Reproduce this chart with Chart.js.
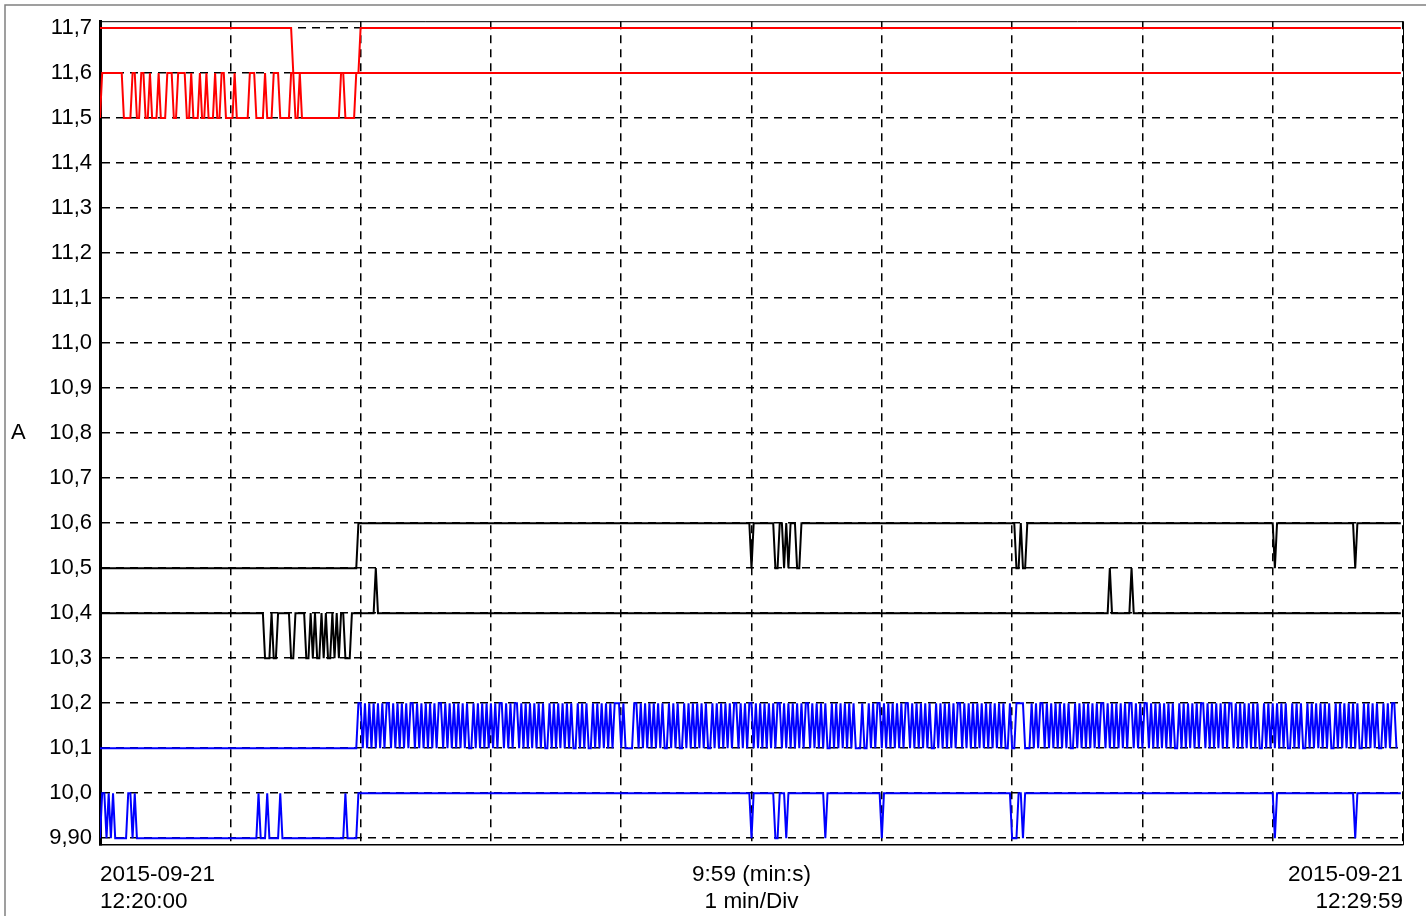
<!DOCTYPE html>
<html>
<head>
<meta charset="utf-8">
<title>A</title>
<script src="https://cdn.jsdelivr.net/npm/chart.js@4.4.1/dist/chart.umd.min.js"></script>
<style>
  html, body { margin: 0; padding: 0; background: #fff; }
  canvas { display: block; }
</style>
</head>
<body>
<canvas id="trend" width="1426" height="916"></canvas>
<script>
// 采样 1 s，共 600 点 (12:20:00 - 12:29:59)
const LAST_SEC = 599;

// 纵轴刻度
const yTicks = [9.9, 10.0, 10.1, 10.2, 10.3, 10.4, 10.5, 10.6, 10.7, 10.8, 10.9, 11.0, 11.1, 11.2, 11.3, 11.4, 11.5, 11.6, 11.7];
const yTickLabels = ['9,90', '10,0', '10,1', '10,2', '10,3', '10,4', '10,5', '10,6', '10,7', '10,8', '10,9', '11,0', '11,1', '11,2', '11,3', '11,4', '11,5', '11,6', '11,7'];

// 横轴标签 (秒 -> 文本)
const xLabelSecs = [0, 300, 600];
const xLabels = [
    ['2015-09-21', '12:20:00'],
    ['9:59 (min:s)', '1 min/Div'],
    ['2015-09-21', '12:29:59']
];

// 各曲线: 两个电平交替, runs 为每段持续秒数 (从 levels[0] 开始)
const redHiLevels = [11.7, 11.6];
const redHiRuns = [89, 31, 480];

const redLoLevels = [11.5, 11.6];
const redLoRuns = [1, 10, 4, 2, 2, 2, 2, 1, 3, 1, 3, 3, 2, 4, 2, 1, 3, 1, 2, 1,
    3, 1, 2, 2, 4, 1, 6, 3, 4, 1, 3, 3, 5, 2, 2, 1, 18, 2, 5, 482];

const blackHiLevels = [10.5, 10.6];
const blackHiRuns = [119, 181, 1, 10, 2, 2, 1, 1, 1, 3, 2, 99, 2, 1, 2, 114, 1, 36, 1, 21];

// 黑色下曲线有三个电平: [值, 秒]
const blackLoSteps = [
    [10.4, 76], [10.3, 3], [10.4, 1], [10.3, 2], [10.4, 6], [10.3, 2], [10.4, 5],
    [10.3, 2], [10.4, 1], [10.3, 1], [10.4, 1], [10.3, 2], [10.4, 1], [10.3, 1],
    [10.4, 1], [10.3, 2], [10.4, 1], [10.3, 1], [10.4, 1], [10.3, 1], [10.4, 2],
    [10.3, 3], [10.4, 11], [10.5, 1], [10.4, 337], [10.5, 1], [10.4, 9], [10.5, 1],
    [10.4, 124]
];

const blueHiLevels = [10.1, 10.2];
const blueHiRuns = [119,
    2, 1, 1, 1, 1, 1, 1, 1, 1, 1, 1, 1, 2, 1, 1, 1, 1, 1, 1, 1, 1, 1, 2, 1, 1, 1, 1, 1, 1, 1, 1, 1,
    1, 1, 2, 1, 1, 1, 1, 1, 1, 1, 1, 1, 1, 1, 1, 2, 1, 1, 1, 1, 1, 1, 1, 1, 1, 1, 1, 1, 2, 1, 1,
    1, 1, 1, 2, 1, 1, 1, 1, 1, 1, 1, 1, 1, 1, 1, 1, 2, 1, 1, 1, 1, 1, 1, 1, 1, 1, 1, 1, 2, 1, 1, 1,
    1, 1, 2, 1, 1, 1, 1, 1, 1, 1, 1, 1, 1, 3, 1, 1, 4, 2, 1, 1, 1, 1, 1, 1, 1, 1, 1, 1, 1, 1, 2, 1,
    1, 1, 1, 1, 2, 1, 1, 1, 1, 1, 1, 1, 1, 1, 1, 1, 2, 1, 1, 1, 1, 1, 1, 1, 1, 1, 1, 2, 1, 1, 1, 1,
    1, 2, 1, 1, 1, 1, 1, 1, 1, 1, 1, 1, 1, 2, 1, 1, 1, 1, 1, 1, 1, 1, 1, 1, 1, 2, 1, 1, 1, 1, 1, 1,
    1, 1, 2, 1, 1, 1, 1, 1, 1, 1, 1, 1, 1, 1, 3, 1, 2, 1, 1, 1, 1, 2, 1, 1, 1, 1, 1, 1, 1, 1, 1, 1,
    1, 2, 1, 1, 1, 1, 1, 1, 1, 1, 1, 1, 2, 1, 1, 1, 1, 1, 1, 1, 1, 1, 1, 2, 1, 1, 1, 1, 1, 1, 1, 1, 1,
    1, 1, 1, 1, 1, 1, 1, 1, 1, 1, 1, 2, 1, 2, 4, 3, 1, 1, 1, 1, 2, 1, 1, 1, 1, 1, 1, 1, 1, 1, 1, 1,
    1, 2, 1, 1, 1, 1, 1, 1, 1, 1, 1, 1, 1, 1, 2, 1, 1, 1, 1, 1, 1, 1, 1, 1, 1, 1, 2, 1, 1, 1, 1, 1,
    2, 1, 1, 1, 1, 1, 1, 1, 1, 1, 1, 1, 1, 2, 1, 1, 1, 1, 1, 1, 1, 1, 1, 1, 2, 1, 1, 1, 1, 1, 1, 1, 1,
    1, 1, 1, 2, 1, 1, 1, 1, 1, 1, 1, 1, 1, 1, 1, 1, 2, 1, 1, 1, 1, 1, 1, 1, 1, 1, 1, 1, 2, 1, 1, 1,
    1, 1, 2, 1, 1, 1, 1, 1, 1, 1, 1, 1, 1, 1, 2, 1, 1, 1, 1, 1, 1, 1, 1, 1, 1, 1, 2, 1, 1, 1, 1, 1,
    1, 1, 2, 1, 1, 1, 1, 2, 1
];

const blueLoLevels = [9.9, 10.0];
const blueLoRuns = [1, 2, 1, 1, 1, 1, 6, 2, 1, 1, 56, 1, 3, 1, 5, 1, 29, 1, 5, 181,
    1, 10, 2, 3, 1, 17, 1, 25, 1, 59, 3, 2, 1, 115, 1, 36, 1, 21];

// 交替电平 -> [值, 秒]
function alternate(levels, runs) {
    return runs.map((n, i) => [levels[i % 2], n]);
}

// [值, 秒] -> 折线点，每段首尾各一个点
function toPoints(steps) {
    const pts = [];
    let t = 0;
    steps.forEach(([v, n]) => {
        if (t > LAST_SEC) return;
        pts.push({ x: t, y: v });
        const end = Math.min(t + n - 1, LAST_SEC);
        if (end > t) pts.push({ x: end, y: v });
        t += n;
    });
    return pts;
}

const series = [
    { color: '#ff0000', steps: alternate(redHiLevels, redHiRuns) },
    { color: '#ff0000', steps: alternate(redLoLevels, redLoRuns) },
    { color: '#000000', steps: alternate(blackHiLevels, blackHiRuns) },
    { color: '#000000', steps: blackLoSteps },
    { color: '#0000ff', steps: alternate(blueHiLevels, blueHiRuns) },
    { color: '#0000ff', steps: alternate(blueLoLevels, blueLoRuns) }
];

const FONT = '"Liberation Sans", Arial, sans-serif';
Chart.defaults.font.family = FONT;
Chart.defaults.color = '#000';

// 背景、外框、绘图区边框、纵轴单位
const framePlugin = {
    id: 'frame',
    beforeDraw(chart) {
        const ctx = chart.ctx;
        ctx.save();
        ctx.fillStyle = '#fff';
        ctx.fillRect(0, 0, chart.width, chart.height);
        ctx.strokeStyle = '#808080';
        ctx.lineWidth = 1.5;
        ctx.beginPath();
        ctx.moveTo(chart.width, 5);
        ctx.lineTo(5, 5);
        ctx.lineTo(5, chart.height);
        ctx.stroke();
        ctx.restore();
    },
    afterDraw(chart) {
        const { ctx, chartArea: a } = chart;
        ctx.save();
        ctx.strokeStyle = '#000';
        ctx.lineWidth = 1;
        ctx.beginPath();
        ctx.moveTo(a.left, a.top + 0.5);
        ctx.lineTo(a.right + 0.5, a.top + 0.5);
        ctx.lineTo(a.right + 0.5, a.bottom);
        ctx.stroke();
        ctx.font = '22px ' + FONT;
        ctx.fillStyle = '#000';
        ctx.textBaseline = 'middle';
        ctx.textAlign = 'left';
        ctx.fillText('A', 11, (a.top + a.bottom) / 2);
        ctx.restore();
    }
};

new Chart(document.getElementById('trend'), {
    type: 'line',
    data: {
        datasets: series.map(s => ({
            data: toPoints(s.steps),
            borderColor: s.color,
            borderWidth: 2,
            pointRadius: 0,
            tension: 0,
            fill: false
        }))
    },
    options: {
        responsive: false,
        animation: false,
        events: [],
        layout: { padding: { top: 18, right: 23, left: 0, bottom: 0 } },
        plugins: {
            legend: { display: false },
            tooltip: { enabled: false }
        },
        scales: {
            x: {
                type: 'linear',
                min: 0,
                max: 600,
                afterFit(scale) { scale.height = 71; },
                grid: { color: '#000', lineWidth: 1.5, drawTicks: false },
                border: { display: true, color: '#000', width: 1.5, dash: [8, 6] },
                ticks: {
                    stepSize: 60,
                    autoSkip: false,
                    maxRotation: 0,
                    align: 'inner',
                    padding: 16,
                    font: { size: 22.5, lineHeight: 1.2 },
                    callback(value) {
                        const i = xLabelSecs.indexOf(value);
                        return i >= 0 ? xLabels[i] : '';
                    }
                }
            },
            y: {
                min: 9.885,
                max: 11.715,
                afterFit(scale) { scale.width = 100; },
                afterBuildTicks(scale) { scale.ticks = yTicks.map(v => ({ value: v })); },
                grid: { color: '#000', lineWidth: 1.5, drawTicks: false },
                border: { display: true, color: '#000', width: 3, dash: [8, 6] },
                ticks: {
                    padding: 8,
                    font: { size: 22 },
                    callback(value, index) { return yTickLabels[index]; }
                }
            }
        }
    },
    plugins: [framePlugin]
});
</script>
</body>
</html>
